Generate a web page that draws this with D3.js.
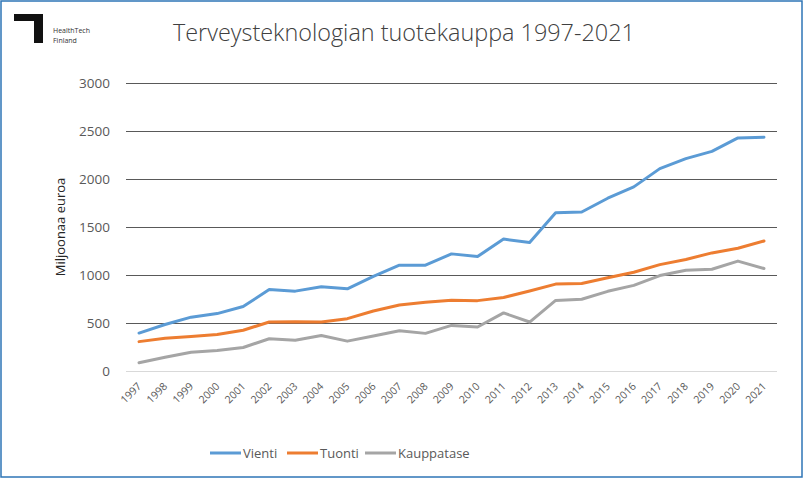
<!DOCTYPE html>
<html>
<head>
<meta charset="utf-8">
<script src="https://cdn.jsdelivr.net/npm/d3@7"></script>
<style>
  body { margin: 0; background: #fff; }
  svg text { font-family: "Open Sans", sans-serif; }
</style>
</head>
<body>
<div id="chart"></div>
<script>
var years = ["1997", "1998", "1999", "2000", "2001", "2002", "2003", "2004", "2005", "2006", "2007", "2008", "2009",
  "2010", "2011", "2012", "2013", "2014", "2015", "2016", "2017", "2018", "2019", "2020", "2021"];
var vienti = [395, 484, 561, 598, 672, 848, 832, 878, 856, 985, 1102, 1102, 1220, 1192, 1374, 1339, 1648, 1656, 1800, 1918, 2108, 2212, 2288, 2428, 2435];
var tuonti = [306, 340, 360, 380, 425, 510, 514, 511, 545, 625, 688, 716, 738, 733, 766, 833, 905, 911, 972, 1028, 1108, 1162, 1230, 1278, 1354];
var kauppatase = [86, 144, 196, 214, 245, 336, 320, 370, 311, 364, 420, 392, 475, 458, 605, 510, 735, 748, 830, 892, 994, 1050, 1060, 1145, 1068];
var yTicks = [0, 500, 1000, 1500, 2000, 2500, 3000];
var seriesNames = ["Vienti", "Tuonti", "Kauppatase"];

var w = 804, h = 480;
var colors = {"Vienti": "#5b9bd5", "Tuonti": "#ed7d31", "Kauppatase": "#a5a5a5"};
var seriesData = [vienti, tuonti, kauppatase];

var svg = d3.select("#chart").append("svg")
  .attr("width", w)
  .attr("height", h);

// kehys
svg.append("rect")
  .attr("x", 1).attr("y", 1)
  .attr("width", w - 3).attr("height", 476)
  .attr("fill", "#fff")
  .attr("stroke", "#2e75b6")
  .attr("stroke-width", 1.5);

// logo
var logo = svg.append("g");
logo.append("path")
  .attr("d", "M14,14 H43 V43 H34 V21 H14 Z")
  .attr("fill", "#111");
logo.append("text").attr("x", 53).attr("y", 33)
  .attr("font-size", 7).attr("fill", "#333").text("HealthTech");
logo.append("text").attr("x", 53).attr("y", 43)
  .attr("font-size", 7).attr("fill", "#333").text("Finland");

// otsikko
svg.append("text")
  .attr("x", 173)
  .attr("y", 41)
  .attr("font-size", 23.4)
  .attr("font-weight", 300)
  .attr("fill", "#404040")
  .text("Terveysteknologian tuotekauppa 1997-2021");

var x = d3.scaleBand().domain(years).range([126, 777]);
var y = d3.scaleLinear().domain([0, 3000]).range([371, 83]);

// vaakaviivat
svg.append("g")
  .selectAll("line")
  .data(yTicks)
  .enter().append("line")
  .attr("x1", 126)
  .attr("x2", 777)
  .attr("y1", function (d) { return Math.round(y(d)) + 0.5; })
  .attr("y2", function (d) { return Math.round(y(d)) + 0.5; })
  .attr("stroke", function (d) { return d === 0 ? "#d9d9d9" : "#595959"; })
  .attr("stroke-width", 1);

// y-akselin luvut
svg.append("g")
  .selectAll("text")
  .data(yTicks)
  .enter().append("text")
  .attr("x", 110)
  .attr("y", function (d) { return y(d) + 5; })
  .attr("text-anchor", "end")
  .attr("font-size", 13.5)
  .attr("fill", "#595959")
  .text(function (d) { return d; });

svg.append("text")
  .attr("transform", "translate(65,227) rotate(-90)")
  .attr("text-anchor", "middle")
  .attr("font-size", 13)
  .attr("fill", "#262626")
  .text("Miljoonaa euroa");

// x-akselin vuodet
svg.append("g")
  .selectAll("text")
  .data(years)
  .enter().append("text")
  .attr("transform", function (d) {
    return "translate(" + (x(d) + x.bandwidth() / 2 + 3) + ",387) rotate(-45)";
  })
  .attr("text-anchor", "end")
  .attr("font-size", 10.5)
  .attr("fill", "#595959")
  .text(function (d) { return d; });

// viivat
var line = d3.line()
  .x(function (d, i) { return x(years[i]) + x.bandwidth() / 2; })
  .y(function (d) { return y(d); });

svg.append("g")
  .selectAll("path")
  .data(seriesData)
  .enter().append("path")
  .attr("d", line)
  .attr("fill", "none")
  .attr("stroke", function (d, i) { return colors[seriesNames[i]]; })
  .attr("stroke-width", 3)
  .attr("stroke-linejoin", "round")
  .attr("stroke-linecap", "round");

// selite
var legendX = [210, 287, 365];
var legend = svg.append("g")
  .selectAll("g")
  .data(seriesNames)
  .enter().append("g")
  .attr("transform", function (d, i) { return "translate(" + legendX[i] + ",453)"; });

legend.append("line")
  .attr("x1", 0).attr("x2", 31)
  .attr("stroke", function (d) { return colors[d]; })
  .attr("stroke-width", 3);

legend.append("text")
  .attr("x", 33)
  .attr("y", 5)
  .attr("font-size", 13)
  .attr("fill", "#595959")
  .text(function (d) { return d; });
</script>
</body>
</html>
